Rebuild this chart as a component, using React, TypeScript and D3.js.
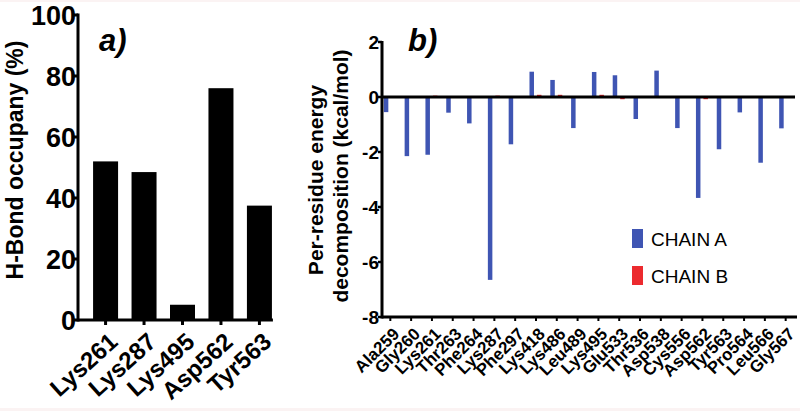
import React from "react";
import * as d3 from "d3";

const hbondResidues = ["Lys261", "Lys287", "Lys495", "Asp562", "Tyr563"];
const hbondOccupancy = [52, 48.5, 5, 76, 37.5];
const hbondTicks = [0, 20, 40, 60, 80, 100];

const energyResidues = [
  "Ala259", "Gly260", "Lys261", "Thr263", "Phe264", "Lys287", "Phe297", "Lys418",
  "Lys486", "Leu489", "Lys495", "Glu533", "Thr536", "Asp538", "Cys556", "Asp562",
  "Tyr563", "Pro564", "Leu566", "Gly567",
];
const chainA = [
  -0.55, -2.15, -2.1, -0.57, -0.96, -6.65, -1.72, 0.92, 0.62, -1.13, 0.91, 0.79,
  -0.8, 0.96, -1.13, -3.67, -1.9, -0.56, -2.39, -1.14,
];
const chainB = [
  0, 0, 0.05, 0, 0, 0.05, 0, 0.08, 0.08, 0, 0.08, -0.08, 0, 0, 0, -0.08, 0, 0, 0, 0,
];
const energyTicks = [2, 0, -2, -4, -6, -8];
const seriesNames = ["CHAIN A", "CHAIN B"];
const seriesColors = ["#3f55b3", "#ec2a2e"];

const FONT = "'Liberation Sans', Arial, Helvetica, sans-serif";

export default function App() {
  // Left panel scales
  const yL = d3.scaleLinear().domain([0, 100]).range([320, 15]);
  const xL = d3
    .scaleBand<string>()
    .domain(hbondResidues)
    .range([80, 285])
    .paddingInner(0.35)
    .paddingOuter(0.34);
  const axisLX = 78;
  const axisLEnd = (xL(hbondResidues[hbondResidues.length - 1]) ?? 0) + xL.bandwidth() + 1;

  // Right panel scales
  const yR = d3.scaleLinear().domain([-8, 2]).range([317, 42]);
  const xR = d3.scalePoint<string>().domain(energyResidues).range([382, 794]).padding(0.4);
  const axisRX = 382;
  const barW = 4.5;

  return (
    <svg
      width={800}
      height={411}
      style={{ position: "absolute", left: 0, top: 0, background: "#fff" }}
      fontFamily={FONT}
    >
      <rect x={0} y={0} width={800} height={411} fill="#ffffff" />
      <rect x={0} y={0} width={800} height={2} fill="#fbf3f3" />
      <rect x={0} y={408} width={800} height={3} fill="#fbf3f3" />

      {/* ---------- Panel a ---------- */}
      {hbondResidues.map((r, i) => (
        <rect
          key={r}
          x={xL(r)}
          y={yL(hbondOccupancy[i])}
          width={xL.bandwidth()}
          height={yL(0) - yL(hbondOccupancy[i])}
          fill="#000"
        />
      ))}
      {/* y axis */}
      <line x1={axisLX} x2={axisLX} y1={yL(100) - 1.5} y2={yL(0) + 1.5} stroke="#000" strokeWidth={3} />
      {hbondTicks.map((t) => (
        <g key={t}>
          <line x1={axisLX - 4} x2={axisLX} y1={yL(t)} y2={yL(t)} stroke="#000" strokeWidth={3} />
          <text
            x={axisLX - 2}
            y={yL(t)}
            dy="0.36em"
            textAnchor="end"
            fontSize={27}
            fontWeight="bold"
          >
            {t}
          </text>
        </g>
      ))}
      {/* x axis */}
      <line x1={axisLX} x2={axisLEnd} y1={yL(0)} y2={yL(0)} stroke="#000" strokeWidth={3} />
      {hbondResidues.map((r) => {
        const cx = (xL(r) ?? 0) + xL.bandwidth() / 2;
        return (
          <g key={r}>
            <line x1={cx} x2={cx} y1={yL(0)} y2={yL(0) + 5} stroke="#000" strokeWidth={3} />
            <text
              transform={`translate(${cx + 2},${yL(0) + 11}) rotate(-42)`}
              dy="0.72em"
              textAnchor="end"
              fontSize={24}
              fontWeight="bold"
            >
              {r}
            </text>
          </g>
        );
      })}
      <text
        transform={`translate(23,160) rotate(-90)`}
        textAnchor="middle"
        fontSize={23}
        fontWeight="bold"
      >
        H-Bond occupany (%)
      </text>
      <text x={99} y={51} fontSize={31} fontWeight="bold" fontStyle="italic">
        a)
      </text>

      {/* ---------- Panel b ---------- */}
      {energyResidues.map((r, i) => {
        const c = xR(r) ?? 0;
        const a = chainA[i];
        const b = chainB[i];
        return (
          <g key={r}>
            <rect
              x={c - 6.5}
              y={Math.min(yR(a), yR(0))}
              width={barW}
              height={Math.abs(yR(a) - yR(0))}
              fill={seriesColors[0]}
            />
            <rect
              x={c + 1}
              y={Math.min(yR(b), yR(0))}
              width={barW}
              height={Math.abs(yR(b) - yR(0))}
              fill={seriesColors[1]}
            />
          </g>
        );
      })}
      {/* zero line */}
      <line x1={axisRX} x2={795} y1={yR(0)} y2={yR(0)} stroke="#000" strokeWidth={3} />
      {/* y axis */}
      <line x1={axisRX} x2={axisRX} y1={yR(2) - 1} y2={yR(-8) + 1.5} stroke="#000" strokeWidth={3} />
      {energyTicks.map((t) => (
        <g key={t}>
          <line x1={axisRX - 4} x2={axisRX} y1={yR(t)} y2={yR(t)} stroke="#000" strokeWidth={2.5} />
          <text
            x={axisRX - 3}
            y={yR(t)}
            dy="0.36em"
            textAnchor="end"
            fontSize={19}
            fontWeight="bold"
          >
            {t}
          </text>
        </g>
      ))}
      {/* bottom axis */}
      <line x1={axisRX} x2={797} y1={yR(-8)} y2={yR(-8)} stroke="#000" strokeWidth={3} />
      {energyResidues.map((r) => {
        const c = xR(r) ?? 0;
        return (
          <g key={r}>
            <line x1={c} x2={c} y1={yR(-8)} y2={yR(-8) + 4} stroke="#000" strokeWidth={2} />
            <text
              transform={`translate(${c + 1},${yR(-8) + 9}) rotate(-45)`}
              dy="0.75em"
              textAnchor="end"
              fontSize={17}
              fontWeight="bold"
            >
              {r}
            </text>
          </g>
        );
      })}
      <text
        transform={`translate(323,180) rotate(-90)`}
        textAnchor="middle"
        fontSize={21}
        fontWeight="bold"
      >
        Per-residue energy
      </text>
      <text
        transform={`translate(348,176) rotate(-90)`}
        textAnchor="middle"
        fontSize={21}
        fontWeight="bold"
      >
        decomposition (kcal/mol)
      </text>
      <text x={408} y={51} fontSize={31} fontWeight="bold" fontStyle="italic">
        b)
      </text>

      {/* legend */}
      {seriesNames.map((n, i) => (
        <g key={n} transform={`translate(632,${229 + i * 37})`}>
          <rect x={0} y={0} width={11} height={19} fill={seriesColors[i]} />
          <text x={19} y={17} fontSize={19}>
            {n}
          </text>
        </g>
      ))}
    </svg>
  );
}
